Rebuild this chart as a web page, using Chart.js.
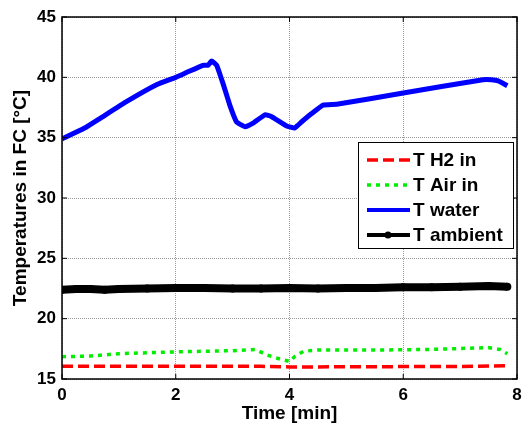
<!DOCTYPE html>
<html>
<head>
<meta charset="utf-8">
<script src="https://cdn.jsdelivr.net/npm/chart.js@4.4.0/dist/chart.umd.min.js"></script>
<style>
  html, body { margin: 0; padding: 0; background: #fff; }
  #wrap { width: 528px; height: 429px; }
</style>
</head>
<body>
<div id="wrap"><canvas id="myChart" width="528" height="429"></canvas></div>
<script>
// time axis in minutes
var xTicks = [0, 2, 4, 6, 8];
var yTicks = [15, 20, 25, 30, 35, 40, 45];

// T water
var waterTime = [0, 0.4, 0.67, 1.14, 1.67, 2.0, 2.19, 2.48, 2.57, 2.63, 2.72, 2.83, 2.95, 3.07, 3.22, 3.36, 3.57, 3.68, 3.95, 4.09, 4.21, 4.39, 4.59, 4.83, 6.0, 7.4, 7.55, 7.67, 7.83];
var waterTemp = [34.9, 35.8, 36.6, 38.0, 39.4, 40.0, 40.4, 41.0, 41.0, 41.35, 41.0, 39.5, 37.7, 36.3, 35.9, 36.2, 36.9, 36.75, 35.97, 35.8, 36.3, 37.0, 37.7, 37.77, 38.7, 39.8, 39.8, 39.7, 39.3];

// T Air in
var airTime = [0, 0.5, 1.0, 2.0, 3.0, 3.4, 3.6, 3.8, 4.0, 4.1, 4.25, 4.5, 5.5, 6.5, 7.5, 7.7, 7.83];
var airTemp = [16.85, 16.9, 17.1, 17.25, 17.35, 17.45, 17.0, 16.7, 16.45, 16.9, 17.3, 17.4, 17.4, 17.45, 17.6, 17.45, 17.1];

// T H2 in
var h2Time = [0, 3.5, 4.0, 4.4, 7.3, 7.83];
var h2Temp = [16.05, 16.05, 16.0, 16.0, 16.05, 16.1];

// T ambient
var ambTime = [0, 0.25, 0.5, 0.75, 1.0, 1.5, 2.0, 2.5, 3.0, 3.5, 4.0, 4.5, 5.0, 5.5, 6.0, 6.5, 7.0, 7.5, 7.83];
var ambTemp = [22.4, 22.45, 22.45, 22.4, 22.45, 22.5, 22.55, 22.55, 22.5, 22.5, 22.55, 22.5, 22.55, 22.55, 22.6, 22.6, 22.65, 22.7, 22.65];

function pairs(xs, ys) {
  var out = [];
  for (var i = 0; i < xs.length; i++) out.push({x: xs[i], y: ys[i]});
  return out;
}

var FONT = '"Liberation Sans", Arial, sans-serif';

// MATLAB-ish box, inward ticks and the legend drawn inside the axes
var boxPlugin = {
  id: 'boxPlugin',
  afterDatasetsDraw: function(chart) {
    var ctx = chart.ctx, a = chart.chartArea;
    var xs = chart.scales.x, ys = chart.scales.y;
    ctx.save();
    ctx.strokeStyle = '#000';
    ctx.lineWidth = 1.5;
    ctx.strokeRect(a.left, a.top, a.right - a.left, a.bottom - a.top);
    ctx.lineWidth = 1;
    xTicks.forEach(function(v) {
      var px = xs.getPixelForValue(v);
      ctx.beginPath();
      ctx.moveTo(px, a.bottom); ctx.lineTo(px, a.bottom - 5);
      ctx.moveTo(px, a.top); ctx.lineTo(px, a.top + 5);
      ctx.stroke();
    });
    yTicks.forEach(function(v) {
      var py = ys.getPixelForValue(v);
      ctx.beginPath();
      ctx.moveTo(a.left, py); ctx.lineTo(a.left + 5, py);
      ctx.moveTo(a.right, py); ctx.lineTo(a.right - 5, py);
      ctx.stroke();
    });

    // legend
    var lx = 358, ly = 142, lw = 155, lh = 106;
    ctx.fillStyle = '#fff';
    ctx.fillRect(lx, ly, lw, lh);
    ctx.strokeStyle = '#000';
    ctx.lineWidth = 1;
    ctx.strokeRect(lx + 0.5, ly + 0.5, lw, lh);
    ctx.font = 'bold 19px ' + FONT;
    ctx.textBaseline = 'middle';
    chart.data.datasets.forEach(function(ds, i) {
      var ry = 160 + i * 25;
      ctx.save();
      ctx.strokeStyle = ds.borderColor;
      ctx.lineWidth = ds.legendWidth || ds.borderWidth;
      ctx.setLineDash(ds.borderDash || []);
      ctx.beginPath();
      ctx.moveTo(367, ry); ctx.lineTo(410, ry);
      ctx.stroke();
      if (ds.legendDot) {
        ctx.fillStyle = ds.borderColor;
        ctx.beginPath();
        ctx.arc(388, ry, 3.5, 0, Math.PI * 2);
        ctx.fill();
      }
      ctx.restore();
      ctx.fillStyle = '#000';
      ctx.fillText(ds.label, 413, ry + 1);
    });
    ctx.restore();
  }
};

const ctx = document.getElementById('myChart').getContext('2d');
const myChart = new Chart(ctx, {
  type: 'line',
  data: {
    datasets: [{
      label: 'T H2 in',
      data: pairs(h2Time, h2Temp),
      borderColor: '#ff0000',
      borderWidth: 3.5,
      borderDash: [11, 5],
      pointRadius: 0,
      tension: 0
    }, {
      label: 'T Air in',
      data: pairs(airTime, airTemp),
      borderColor: '#00ee00',
      borderWidth: 3.5,
      borderDash: [4, 5],
      pointRadius: 0,
      tension: 0
    }, {
      label: 'T water',
      data: pairs(waterTime, waterTemp),
      borderColor: '#0000ff',
      borderWidth: 5,
      legendWidth: 4,
      pointRadius: 0,
      tension: 0.1
    }, {
      label: 'T ambient',
      data: pairs(ambTime, ambTemp),
      borderColor: '#000000',
      backgroundColor: '#000000',
      borderWidth: 8,
      legendWidth: 4,
      pointRadius: 4,
      pointBorderWidth: 0,
      legendDot: true,
      tension: 0
    }]
  },
  options: {
    responsive: false,
    animation: false,
    layout: { padding: { left: 0, right: 11, top: 17, bottom: 0 } },
    plugins: {
      legend: { display: false },
      tooltip: { enabled: false }
    },
    scales: {
      x: {
        type: 'linear',
        min: 0,
        max: 8,
        afterFit: function(s) { s.height = 50; },
        ticks: {
          stepSize: 2,
          color: '#000',
          padding: 6,
          font: { family: FONT, size: 17, weight: 'bold' }
        },
        grid: { color: '#999', lineWidth: 1, drawTicks: false },
        border: { display: false, dash: [1, 1] },
        title: {
          display: true,
          text: 'Time [min]',
          color: '#000',
          padding: { top: 0, bottom: 4 },
          font: { family: FONT, size: 19, weight: 'bold' }
        }
      },
      y: {
        min: 15,
        max: 45,
        afterFit: function(s) { s.width = 62; },
        ticks: {
          stepSize: 5,
          color: '#000',
          padding: 6,
          font: { family: FONT, size: 17, weight: 'bold' }
        },
        grid: { color: '#999', lineWidth: 1, drawTicks: false },
        border: { display: false, dash: [1, 1] },
        title: {
          display: true,
          text: 'Temperatures in FC [°C]',
          color: '#000',
          padding: { top: 9, bottom: 0 },
          font: { family: FONT, size: 19, weight: 'bold' }
        }
      }
    }
  },
  plugins: [boxPlugin]
});
</script>
</body>
</html>
